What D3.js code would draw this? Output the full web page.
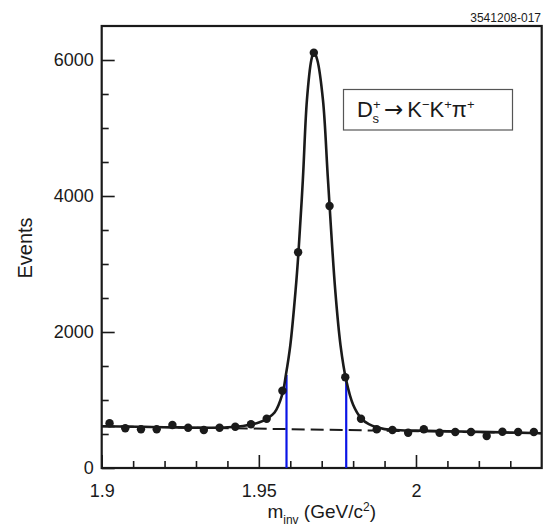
<!DOCTYPE html>
<html>
<head>
<meta charset="utf-8">
<script src="https://cdn.jsdelivr.net/npm/d3@7"></script>
<style>
  body { margin: 0; background: #fff; }
  text { font-family: "Liberation Sans", Arial, Helvetica, sans-serif; fill: #1a1a1a; }
</style>
</head>
<body>
<div id="chart"></div>
<script>
// measured data points (bin centre, events)
var massBins = [1.9025, 1.9075, 1.9125, 1.9175, 1.9225, 1.9275, 1.9325, 1.9375, 1.9425, 1.9475,
                1.9525, 1.9575, 1.9625, 1.9675, 1.9725, 1.9775, 1.9825, 1.9875, 1.9925, 1.9975,
                2.0025, 2.0075, 2.0125, 2.0175, 2.0225, 2.0275, 2.0325, 2.0375];
var events = [657, 584, 569, 569, 632, 593, 559, 593, 607, 643,
              725, 1137, 3172, 6107, 3853, 1334, 725, 569, 559, 519,
              569, 519, 529, 529, 471, 534, 529, 529];

// fit curve
var fitMass = [1.900, 1.920, 1.935, 1.940, 1.945, 1.950, 1.9525, 1.955, 1.9575, 1.9586,
               1.9600, 1.9617, 1.9626, 1.9640, 1.9653, 1.9667, 1.9675, 1.9686, 1.9704, 1.9720,
               1.9743, 1.9760, 1.9778, 1.980, 1.9825, 1.985, 1.990, 1.995, 2.000, 2.010, 2.040];
var fitEvents = [615, 600, 592, 598, 618, 668, 722, 815, 1090, 1368,
                 1800, 2618, 3165, 4235, 5412, 6000, 6120, 6000, 5412, 4235,
                 2618, 1800, 1290, 930, 735, 645, 572, 556, 550, 540, 512];

// background (dashed)
var bgMass = [1.900, 2.040];
var bgEvents = [615, 512];

// signal window cuts (blue)
var cutMass = [1.9588, 1.9778];
var cutEvents = [1368, 1290];

var xMajor = [1.9, 1.95, 2.0];
var xMinor = [1.91, 1.92, 1.93, 1.94, 1.96, 1.97, 1.98, 1.99, 2.01, 2.02, 2.03];
var yMajor = [0, 2000, 4000, 6000];
var yMinor = [500, 1000, 1500, 2500, 3000, 3500, 4500, 5000, 5500];

var W = 546, H = 527;
var margin = {left: 101.7, right: 541.7, top: 26, bottom: 468};

var svg = d3.select("#chart").append("svg")
  .attr("width", W).attr("height", H);

var x = d3.scaleLinear().domain([1.9, 2.04]).range([margin.left, margin.right]);
var y = d3.scaleLinear().domain([0, 6500]).range([margin.bottom, margin.top]);

// axes, ticks pointing inward
function styleAxis(g) {
  g.select(".domain").remove();
  g.selectAll(".tick line").attr("stroke", "#1a1a1a").attr("stroke-width", 1.6);
  g.selectAll(".tick text").style("font-size", "18px").attr("fill", "#1a1a1a");
}

svg.append("g").attr("transform", "translate(0," + margin.bottom + ")")
  .call(d3.axisBottom(x).tickValues(xMajor).tickSize(-13).tickPadding(16)
    .tickFormat(function(d) { return d === 2 ? "2" : d3.format("")(d); }))
  .call(styleAxis);
svg.append("g").attr("transform", "translate(0," + margin.bottom + ")")
  .call(d3.axisBottom(x).tickValues(xMinor).tickSize(-7).tickFormat(""))
  .call(styleAxis);

svg.append("g").attr("transform", "translate(" + margin.left + ",0)")
  .call(d3.axisLeft(y).tickValues(yMajor).tickSize(-13).tickPadding(8).tickFormat(d3.format("d")))
  .call(styleAxis);
svg.append("g").attr("transform", "translate(" + margin.left + ",0)")
  .call(d3.axisLeft(y).tickValues(yMinor).tickSize(-7).tickFormat(""))
  .call(styleAxis);

// frame
svg.append("rect")
  .attr("x", margin.left).attr("y", margin.top)
  .attr("width", margin.right - margin.left).attr("height", margin.bottom - margin.top)
  .attr("fill", "none").attr("stroke", "#1a1a1a").attr("stroke-width", 2.2);

// background dashed line
var line = d3.line().x(function(d) { return x(d[0]); }).y(function(d) { return y(d[1]); });
svg.append("path")
  .datum(d3.zip(bgMass, bgEvents))
  .attr("d", line)
  .attr("fill", "none").attr("stroke", "#1a1a1a").attr("stroke-width", 2)
  .attr("stroke-dasharray", "13,6");

// blue cut lines
svg.selectAll(".cut")
  .data(d3.zip(cutMass, cutEvents))
  .enter().append("line")
  .attr("x1", function(d) { return x(d[0]); })
  .attr("x2", function(d) { return x(d[0]); })
  .attr("y1", y(0))
  .attr("y2", function(d) { return y(d[1]); })
  .attr("stroke", "#0a14e6").attr("stroke-width", 2.2);

// fit curve
svg.append("path")
  .datum(d3.zip(fitMass, fitEvents))
  .attr("d", line.curve(d3.curveCatmullRom.alpha(0.5)))
  .attr("fill", "none").attr("stroke", "#1a1a1a").attr("stroke-width", 2.6);

// data points
svg.selectAll(".pt")
  .data(d3.zip(massBins, events))
  .enter().append("circle")
  .attr("cx", function(d) { return x(d[0]); })
  .attr("cy", function(d) { return y(d[1]); })
  .attr("r", 4.2)
  .attr("fill", "#1a1a1a");

// legend box
svg.append("rect")
  .attr("x", 343.5).attr("y", 89.5).attr("width", 169).attr("height", 40.5)
  .attr("fill", "#fff").attr("stroke", "#555").attr("stroke-width", 1.2);

var lg = svg.append("text").attr("x", 357).attr("y", 117).style("font-size", "22px");
lg.append("tspan").text("D");
lg.append("tspan").attr("dy", -8).style("font-size", "13px").text("+");
lg.append("tspan").attr("dx", -8).attr("dy", 14).style("font-size", "13px").text("s");
lg.append("tspan").attr("dx", 5).attr("dy", -6).style("font-family", "DejaVu Sans").style("font-size", "23px").text("\u2192");
lg.append("tspan").attr("dx", 4).text("K");
lg.append("tspan").attr("dy", -8).style("font-size", "13px").text("\u2212");
lg.append("tspan").attr("dy", 8).text("K");
lg.append("tspan").attr("dy", -8).style("font-size", "13px").text("+");
lg.append("tspan").attr("dy", 8).text("\u03c0");
lg.append("tspan").attr("dy", -8).style("font-size", "13px").text("+");

// axis titles
svg.append("text")
  .attr("transform", "translate(32,248) rotate(-90)")
  .attr("text-anchor", "middle")
  .style("font-size", "20px")
  .text("Events");

var xt = svg.append("text")
  .attr("x", (margin.left + margin.right) / 2).attr("y", 518)
  .attr("text-anchor", "middle")
  .style("font-size", "19px");
xt.append("tspan").text("m");
xt.append("tspan").attr("dy", 6).style("font-size", "12px").text("inv");
xt.append("tspan").attr("dy", -6).text(" (GeV/c");
xt.append("tspan").attr("dy", -7).style("font-size", "12px").text("2");
xt.append("tspan").attr("dy", 7).text(")");

// figure id
svg.append("text")
  .attr("x", 541).attr("y", 22)
  .attr("text-anchor", "end")
  .style("font-size", "12px")
  .text("3541208-017");
</script>
</body>
</html>
